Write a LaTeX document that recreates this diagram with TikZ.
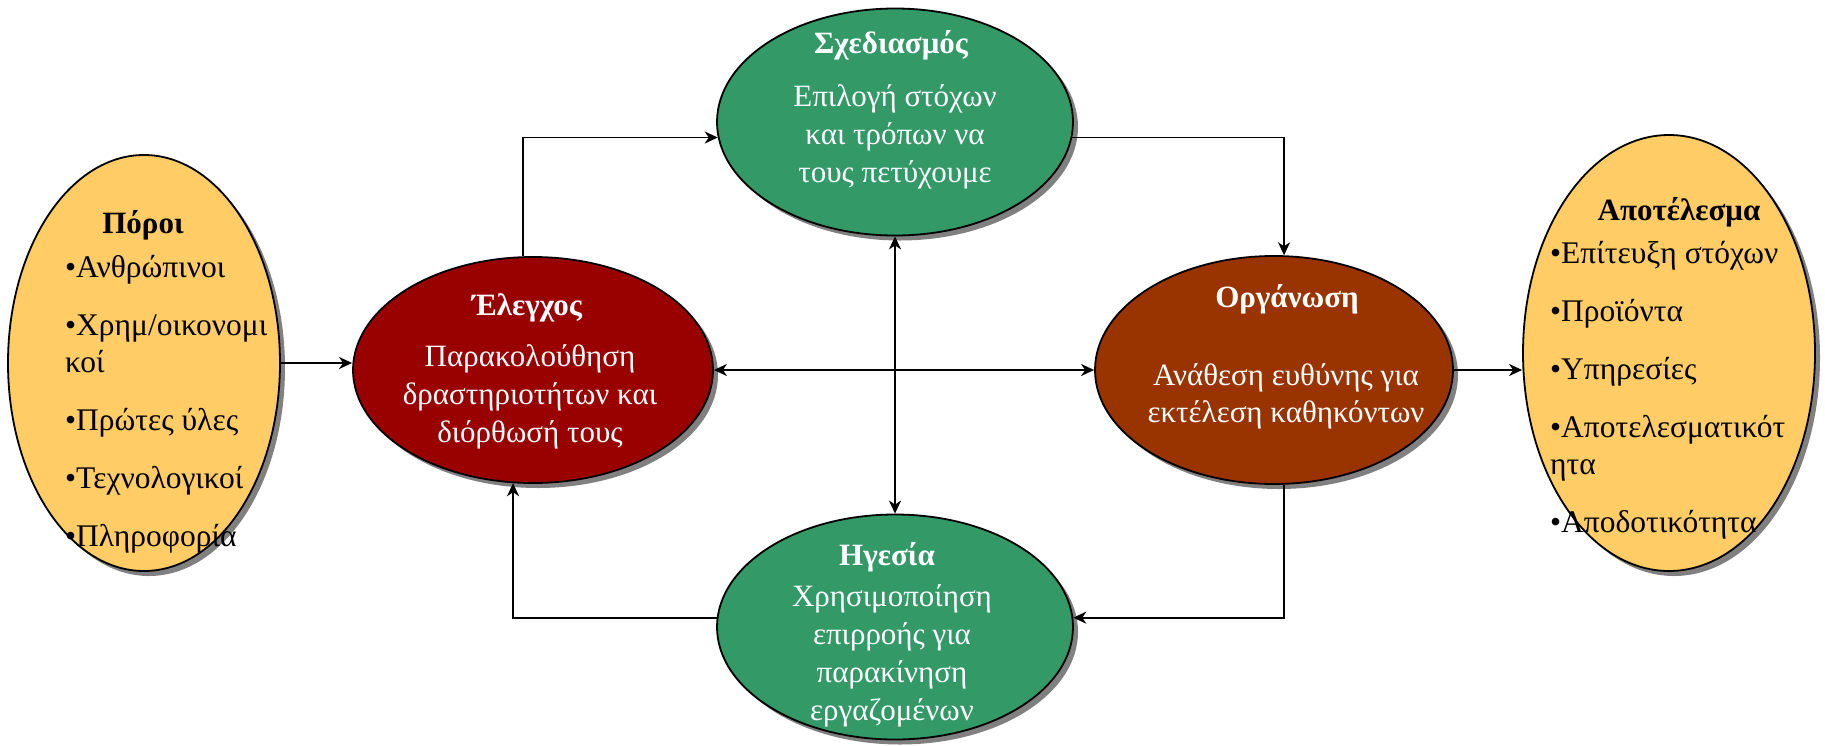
\documentclass[tikz,border=0pt]{standalone}
\usepackage{fontspec}
\setmainfont{Liberation Serif}
\usetikzlibrary{calc,arrows.meta,shapes.geometric,shadows}
\definecolor{vertplan}{HTML}{339966}
\definecolor{rougectrl}{HTML}{990000}
\definecolor{brunorga}{HTML}{993300}
\definecolor{jaunepor}{HTML}{FFCC66}
\definecolor{ombre}{HTML}{808080}

\begin{document}
\begin{tikzpicture}[x=1pt,y=-1pt]
    % Schéma de gestion

    %
    % Définitions
    %
    \pgfmathsetmacro{\xpo}{144};%
    \pgfmathsetmacro{\xct}{533};%
    \pgfmathsetmacro{\xpl}{895};%
    \pgfmathsetmacro{\xor}{1274};%
    \pgfmathsetmacro{\xap}{1669};%
    \pgfmathsetmacro{\ypl}{122};%
    \pgfmathsetmacro{\ym}{370};%
    \pgfmathsetmacro{\yhg}{627};%

    %
    % Styles
    %
    \tikzset{bulle/.style={ellipse,draw=black,line width=1.8pt,inner sep=0pt,%
        drop shadow={shadow xshift=5pt,shadow yshift=-5pt,fill=ombre,opacity=1}}};%
    \tikzset{titre/.style={anchor=base,inner sep=0pt,font=\fontsize{31}{37}\selectfont\bfseries}};%
    \tikzset{corps/.style={anchor=base,align=center,inner sep=0pt,text=white,%
        font=\fontsize{31}{38}\selectfont}};%
    \tikzset{liste/.style={anchor=base west,align=left,inner sep=0pt,%
        font=\fontsize{31.5}{37}\selectfont}};%
    \tikzset{fleche/.style={-{Stealth[length=13pt,width=12pt,inset=4pt]},line width=1.7pt}};%
    \tikzset{flechedouble/.style={{Stealth[length=13pt,width=12pt,inset=4pt]}-{Stealth[length=13pt,width=12pt,inset=4pt]},line width=1.7pt}};%

    \useasboundingbox (0,0) rectangle (1825,745);%

    %
    % Dessin
    %
    % Ellipses
    \node[bulle,fill=jaunepor,minimum width=272,minimum height=416] (poroi) at (\xpo,363) {};%
    \node[bulle,fill=rougectrl,minimum width=360,minimum height=226] (ctrl) at (\xct,\ym) {};%
    \node[bulle,fill=vertplan,minimum width=356,minimum height=227] (plan) at (\xpl,\ypl) {};%
    \node[bulle,fill=brunorga,minimum width=358,minimum height=228] (orga) at (\xor,\ym) {};%
    \node[bulle,fill=vertplan,minimum width=356,minimum height=225] (hges) at (\xpl,\yhg) {};%
    \node[bulle,fill=jaunepor,minimum width=292,minimum height=436] (apot) at (\xap,353) {};%

    % Entrées (base = dernière ligne)
    \node[titre] (poroit) at (143,233) {Πόροι};%
    \node[liste] (poroil) at (65,546) {•Ανθρώπινοι\\[21pt]•Χρημ/οικονομι\\κοί\\[21pt]%
        •Πρώτες ύλες\\[21pt]•Τεχνολογικοί\\[21pt]•Πληροφορία};%

    % Fonctions
    \node[titre,text=white] (plant) at (891,53) {Σχεδιασμός};%
    \node[corps] (planc) at (895,182) {Επιλογή στόχων\\και τρόπων να\\τους πετύχουμε};%
    \node[titre,text=white] (ctrlt) at (527,315) {Έλεγχος};%
    \node[corps] (ctrlc) at (530,442) {Παρακολούθηση\\δραστηριοτήτων και\\διόρθωσή τους};%
    \node[titre,text=white] (orgat) at (1287,307) {Οργάνωση};%
    \node[corps,font=\fontsize{31}{37}\selectfont] (orgac) at (1286,422) {Ανάθεση ευθύνης για\\εκτέλεση καθηκόντων};%
    \node[titre,text=white] (hgest) at (887,565) {Ηγεσία};%
    \node[corps] (hgesc) at (892,720) {Χρησιμοποίηση\\επιρροής για\\παρακίνηση\\εργαζομένων};%

    % Sorties
    \node[titre] (apott) at (1679,220) {Αποτέλεσμα};%
    \node[liste] (apotl) at (1550,532) {•Επίτευξη στόχων\\[21pt]•Προϊόντα\\[21pt]•Υπηρεσίες\\[21pt]%
        •Αποτελεσματικότ\\ητα\\[21pt]•Αποδοτικότητα};%

    % Liaisons
    \draw[fleche] (poroi.east) -- (poroi.east -| ctrl.west);%
    \draw[fleche] (orga.east) -- (orga.east -| apot.west);%
    \draw[flechedouble] (ctrl.east) -- (orga.west);%
    \draw[flechedouble] (plan.south) -- (hges.north);%

    % Boucle
    \draw[fleche] (ctrl.95) |- (plan.185);%
    \draw[fleche] (plan.355) -| (orga.85);%
    \draw[fleche] (orga.275) |- (hges.3);%
    \draw[fleche] (hges.177) -| (ctrl.260);%

\end{tikzpicture}
\end{document}
